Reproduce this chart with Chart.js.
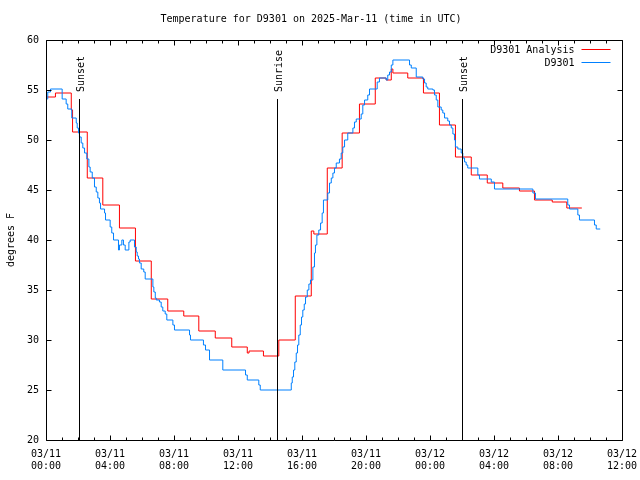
<!DOCTYPE html>
<html>
<head>
<meta charset="utf-8">
<script src="https://cdn.jsdelivr.net/npm/chart.js@4"></script>
<style>
  html, body { margin: 0; padding: 0; background: #fff; }
</style>
</head>
<body>
<canvas id="chartTemp" width="640" height="480"></canvas>
<script>
// hours since 03/11 00:00 UTC, temperatures in degrees F
const analysisHours = [0.00, 0.59, 1.58, 1.66, 2.58, 3.55, 4.59, 5.59, 6.58, 7.61, 8.61, 9.55, 10.58, 11.61,
    12.58, 12.69, 13.59, 14.55, 15.58, 16.58, 16.74, 17.58, 18.51, 19.59, 20.58, 21.26, 21.58, 21.68,
    22.61, 23.59, 24.59, 25.59, 26.58, 27.58, 28.55, 29.59, 30.53, 31.64, 32.55, 33.49];
const analysisTemps = [54.3, 54.7, 53.0, 50.8, 46.2, 43.5, 41.2, 37.9, 34.1, 32.9, 32.4, 30.9, 30.2, 29.3,
    28.7, 28.9, 28.4, 30.0, 34.4, 40.9, 40.6, 47.2, 50.7, 53.6, 56.2, 56.0, 57.1, 56.7,
    56.2, 54.7, 51.5, 48.3, 46.5, 45.7, 45.2, 44.9, 44.0, 43.8, 43.2, 43.2];

const obsHours = [0.01, 0.11, 0.28, 1.01, 1.26, 1.36, 1.61, 1.89, 1.95, 2.03, 2.09, 2.20, 2.30, 2.41, 2.55,
    2.68, 2.76, 2.89, 3.03, 3.14, 3.24, 3.34, 3.41, 3.66, 3.72, 4.01, 4.11, 4.22, 4.53, 4.59, 4.74,
    4.84, 4.95, 5.18, 5.26, 5.53, 5.64, 5.70, 5.78, 5.84, 5.95, 6.11, 6.20, 6.68, 6.74, 6.83, 6.89,
    7.09, 7.20, 7.30, 7.45, 7.55, 7.93, 8.03, 8.97, 9.03, 9.84, 9.97, 10.22, 11.05, 12.47, 12.58,
    13.30, 13.39, 15.33, 15.39, 15.47, 15.55, 15.64, 15.72, 15.80, 15.89, 15.97, 16.05, 16.14, 16.22,
    16.33, 16.43, 16.53, 16.68, 16.78, 16.84, 16.93, 17.05, 17.16, 17.26, 17.34, 17.61, 17.72, 17.83,
    17.93, 18.03, 18.14, 18.34, 18.45, 18.55, 18.66, 18.86, 19.18, 19.28, 19.39, 19.70, 19.80, 19.91,
    20.11, 20.22, 20.70, 20.84, 21.26, 21.36, 21.47, 21.58, 21.68, 22.72, 22.83, 23.14, 23.55, 23.66,
    23.76, 23.86, 24.18, 24.28, 24.39, 24.49, 24.70, 24.80, 24.91, 25.11, 25.22, 25.33, 25.43, 25.53,
    25.59, 25.74, 25.95, 26.05, 26.16, 26.26, 26.36, 26.99, 27.09, 27.83, 28.03, 30.43, 30.59, 32.61,
    32.72, 33.24, 33.34, 34.28, 34.39, 34.64];
const obsTemps = [54.1, 54.8, 55.1, 54.1, 53.6, 53.1, 52.2, 51.7, 51.2, 50.7, 50.3, 49.7, 49.2, 48.7, 48.1,
    47.3, 46.8, 46.2, 45.3, 44.8, 44.2, 43.7, 43.1, 42.7, 42.0, 41.3, 40.7, 40.0, 39.0, 39.5, 40.0,
    39.5, 39.0, 39.8, 40.0, 39.3, 38.8, 38.4, 38.1, 37.7, 37.1, 36.8, 36.1, 35.3, 34.8, 34.2, 34.0,
    33.8, 33.3, 32.9, 32.6, 32.0, 31.5, 31.0, 30.5, 30.0, 29.5, 29.0, 28.0, 27.0, 26.5, 26.0,
    25.5, 25.0, 25.7, 26.3, 27.0, 27.8, 28.7, 29.5, 30.5, 31.5, 32.3, 33.0, 33.6, 34.3,
    35.0, 35.6, 36.0, 37.3, 38.7, 39.5, 40.5, 41.0, 41.7, 42.7, 44.0, 44.7, 45.7, 46.2,
    46.7, 47.2, 47.7, 48.1, 48.7, 49.3, 50.0, 50.7, 51.2, 51.8, 52.1, 52.6, 53.5, 54.0,
    54.5, 55.1, 55.8, 56.2, 56.0, 56.5, 56.8, 57.5, 58.0, 57.5, 57.2, 56.3, 56.1, 55.7,
    55.3, 55.1, 55.0, 54.5, 54.0, 53.3, 53.0, 52.7, 52.2, 51.9, 51.5, 51.2, 50.6, 50.0,
    49.3, 49.1, 48.7, 48.2, 47.8, 47.5, 47.2, 46.5, 46.1, 45.8, 45.1, 44.7, 44.1, 43.5,
    43.1, 42.5, 42.0, 41.5, 41.1, 41.1];

const xTickDays = ['03/11', '03/11', '03/11', '03/11', '03/11', '03/11', '03/12', '03/12', '03/12', '03/12'];
const xTickTimes = ['00:00', '04:00', '08:00', '12:00', '16:00', '20:00', '00:00', '04:00', '08:00', '12:00'];

const sunLabels = ['Sunset', 'Sunrise', 'Sunset'];
const sunHours = [2.04, 14.41, 25.98];
const sunLineTop = 54.1;   // degrees F where the marker lines start
const sunTextBase = 54.8;

const monoFont = { family: 'DejaVu Sans Mono', size: 10, weight: 'normal' };

// gnuplot-like frame, inward ticks, sun markers and legend
const gnuplotDecor = {
    id: 'gnuplotDecor',
    afterDatasetsDraw(chart) {
        const { ctx, chartArea: a, scales } = chart;
        const xs = scales.x, ys = scales.y;
        const L = Math.round(a.left) + 0.5, R = Math.round(a.right) + 0.5;
        const T = Math.round(a.top) + 0.5, B = Math.round(a.bottom) + 0.5;
        ctx.save();
        ctx.strokeStyle = '#000';
        ctx.lineWidth = 1;
        ctx.beginPath();
        ctx.rect(L, T, R - L, B - T);
        // x ticks: major every 4 h, minor every hour
        for (let h = xs.min; h <= xs.max; h++) {
            const px = Math.round(xs.getPixelForValue(h)) + 0.5;
            const len = h % 4 === 0 ? 5 : 3;
            ctx.moveTo(px, B); ctx.lineTo(px, B - len);
            ctx.moveTo(px, T); ctx.lineTo(px, T + len);
        }
        ys.ticks.forEach(t => {
            const py = Math.round(ys.getPixelForValue(t.value)) + 0.5;
            ctx.moveTo(L, py); ctx.lineTo(L + 5, py);
            ctx.moveTo(R, py); ctx.lineTo(R - 5, py);
        });
        // sunrise / sunset markers
        const top = Math.round(ys.getPixelForValue(sunLineTop));
        sunHours.forEach(h => {
            const px = Math.round(xs.getPixelForValue(h)) + 0.5;
            ctx.moveTo(px, top); ctx.lineTo(px, B);
        });
        ctx.stroke();

        ctx.fillStyle = '#000';
        ctx.font = '10px "DejaVu Sans Mono"';
        ctx.textBaseline = 'middle';
        sunHours.forEach((h, i) => {
            const px = Math.round(xs.getPixelForValue(h)) + 2;
            ctx.save();
            ctx.translate(px, ys.getPixelForValue(sunTextBase));
            ctx.rotate(-Math.PI / 2);
            ctx.textAlign = 'left';
            ctx.fillText(sunLabels[i], 0, 0);
            ctx.restore();
        });

        // legend: text right-aligned, line sample to its right
        const order = [1, 0];
        order.forEach((di, row) => {
            const ds = chart.data.datasets[di];
            const ly = Math.round(a.top) + 10 + row * 13;
            ctx.textAlign = 'right';
            ctx.fillStyle = '#000';
            ctx.fillText(ds.label, R - 48, ly);
            ctx.strokeStyle = ds.borderColor;
            ctx.beginPath();
            ctx.moveTo(R - 41, ly - 0.5);
            ctx.lineTo(R - 12, ly - 0.5);
            ctx.stroke();
        });
        ctx.restore();
    }
};

const ctx = document.getElementById('chartTemp').getContext('2d');

const chart = new Chart(ctx, {
    type: 'line',
    data: {
        datasets: [{
            label: 'D9301',
            data: obsHours.map((h, i) => ({ x: h, y: obsTemps[i] })),
            borderColor: '#0080ff',
            borderWidth: 1,
            pointRadius: 0,
            stepped: true,
            fill: false
        }, {
            label: 'D9301 Analysis',
            data: analysisHours.map((h, i) => ({ x: h, y: analysisTemps[i] })),
            borderColor: '#ff0000',
            borderWidth: 1,
            pointRadius: 0,
            stepped: true,
            fill: false
        }]
    },
    options: {
        responsive: false,
        animation: false,
        devicePixelRatio: 1,
        layout: { padding: { left: 0, right: 18, top: 0, bottom: 0 } },
        plugins: {
            legend: { display: false },
            tooltip: { enabled: false },
            title: {
                display: true,
                text: 'Temperature for D9301 on 2025-Mar-11 (time in UTC)',
                color: '#000',
                font: monoFont,
                padding: { top: 13, bottom: 15 }
            }
        },
        scales: {
            x: {
                type: 'linear',
                min: 0,
                max: 36,
                grid: { display: false, drawTicks: false },
                border: { display: false },
                ticks: {
                    stepSize: 4,
                    color: '#000',
                    font: monoFont,
                    padding: 8,
                    maxRotation: 0,
                    autoSkip: false,
                    callback: function (value) {
                        const i = Math.round(value / 4);
                        return [xTickDays[i], xTickTimes[i]];
                    }
                },
                afterFit: function (s) {
                    s.height = 40;
                    s.paddingLeft = 0;
                    s.paddingRight = 0;
                }
            },
            y: {
                min: 20,
                max: 60,
                grid: { display: false, drawTicks: false },
                border: { display: false },
                ticks: { stepSize: 5, color: '#000', font: monoFont, padding: 7 },
                title: {
                    display: true,
                    text: 'degrees F',
                    color: '#000',
                    font: monoFont,
                    padding: { top: 5, bottom: 0 }
                },
                afterFit: function (s) {
                    s.width = 46;
                }
            }
        }
    },
    plugins: [gnuplotDecor]
});
</script>
</body>
</html>
